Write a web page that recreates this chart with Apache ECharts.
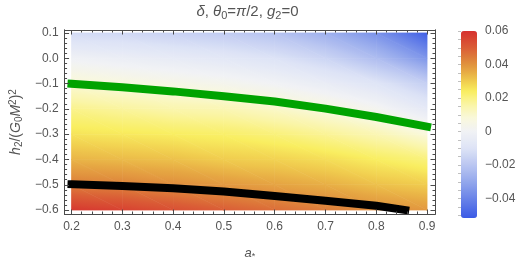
<!DOCTYPE html>
<html><head><meta charset="utf-8">
<script src="https://cdn.jsdelivr.net/npm/echarts@6/dist/echarts.min.js"></script>
<style>html,body{margin:0;padding:0;background:#fff}#c{width:529px;height:266px}</style>
</head><body><div id="c"></div><script>
// ---- data ----
const aStar = [0.2, 0.3, 0.4, 0.5, 0.6, 0.7, 0.8, 0.9];
const h2 = [0.1, 0.0, -0.1, -0.2, -0.3, -0.4, -0.5, -0.6];
// delta values down each column (h2 from 0.1 to -0.6)
const deltaA02 = [-0.013, -0.001, 0.009, 0.019, 0.026, 0.034, 0.044, 0.058];
const deltaA03 = [-0.014, -0.003, 0.007, 0.017, 0.025, 0.033, 0.043, 0.056];
const deltaA04 = [-0.016, -0.005, 0.005, 0.015, 0.024, 0.032, 0.041, 0.053];
const deltaA05 = [-0.018, -0.007, 0.003, 0.014, 0.023, 0.030, 0.039, 0.050];
const deltaA06 = [-0.021, -0.010, 0.000, 0.011, 0.021, 0.029, 0.037, 0.047];
const deltaA07 = [-0.027, -0.015, -0.004, 0.007, 0.018, 0.027, 0.035, 0.044];
const deltaA08 = [-0.036, -0.023, -0.009, 0.002, 0.014, 0.024, 0.032, 0.041];
const deltaA09 = [-0.050, -0.035, -0.017, -0.006, 0.008, 0.021, 0.030, 0.039];
const deltaCols = [deltaA02, deltaA03, deltaA04, deltaA05, deltaA06, deltaA07, deltaA08, deltaA09];

const greenA = [0.2, 0.3, 0.4, 0.5, 0.6, 0.7, 0.8, 0.9];
const greenH = [-0.101, -0.115, -0.131, -0.150, -0.171, -0.199, -0.232, -0.270];
const blackA = [0.2, 0.3, 0.4, 0.5, 0.6, 0.7, 0.8, 0.857];
const blackH = [-0.498, -0.505, -0.514, -0.527, -0.544, -0.563, -0.583, -0.600];

const xTickLabels = [0.2, 0.3, 0.4, 0.5, 0.6, 0.7, 0.8, 0.9];
const yTickLabels = [-0.6, -0.5, -0.4, -0.3, -0.2, -0.1, 0.0, 0.1];
const cbTickLabels = [-0.04, -0.02, 0, 0.02, 0.04, 0.06];

// ---- styling ----
const cbMin = -0.0516, cbMax = 0.06;
const cmapStops = [
  [-0.0516, '#3a5ae6'], [-0.040, '#6a84e8'], [-0.030, '#93a7ec'], [-0.020, '#bac6f1'],
  [-0.010, '#dde3f6'], [0.000, '#f1f2f5'], [0.008, '#f9f8dc'], [0.016, '#faf5a6'],
  [0.024, '#f9ee60'], [0.030, '#f0cc4e'], [0.036, '#e6a843'], [0.042, '#df883c'],
  [0.050, '#da5d36'], [0.060, '#d6302e']
];
const FONT = '"Liberation Sans", Arial, "DejaVu Sans", sans-serif';
const frameColor = '#4a4a4a';
const labelColor = '#555555';
const xMin = 0.1864, xMax = 0.9156, yMin = -0.6155, yMax = 0.1116;

function hexToRgb(h) { return [parseInt(h.substr(1,2),16), parseInt(h.substr(3,2),16), parseInt(h.substr(5,2),16)]; }
const stopRgb = cmapStops.map(s => [s[0], hexToRgb(s[1])]);
function cmap(v) {
  v = Math.max(cbMin, Math.min(cbMax, v));
  let i = 0;
  while (i < stopRgb.length - 2 && v > stopRgb[i + 1][0]) i++;
  const v0 = stopRgb[i][0], v1 = stopRgb[i + 1][0];
  const f = Math.max(0, Math.min(1, (v - v0) / (v1 - v0)));
  const a = stopRgb[i][1], b = stopRgb[i + 1][1];
  return 'rgb(' + [0,1,2].map(k => Math.round(a[k] + (b[k] - a[k]) * f)).join(',') + ')';
}
const barColors = [];
for (let k = 0; k <= 80; k++) barColors.push(cmap(cbMin + (cbMax - cbMin) * k / 80));

function tri(P, V) {
  const e1x = P[1][0]-P[0][0], e1y = P[1][1]-P[0][1];
  const e2x = P[2][0]-P[0][0], e2y = P[2][1]-P[0][1];
  const d1 = V[1]-V[0], d2 = V[2]-V[0];
  const det = e1x*e2y - e1y*e2x;
  const ax = (d1*e2y - d2*e1y) / det;
  const ay = (e1x*d2 - e2x*d1) / det;
  let imin = 0, imax = 0;
  for (let k = 1; k < 3; k++) { if (V[k] < V[imin]) imin = k; if (V[k] > V[imax]) imax = k; }
  const vmin = V[imin], vmax = V[imax];
  const g2 = ax*ax + ay*ay;
  let fill;
  if (g2 < 1e-14 || vmax - vmin < 1e-9) {
    fill = cmap((vmin + vmax) / 2);
  } else {
    const s = (vmax - vmin) / g2;
    const stops = [];
    const n = 10;
    for (let k = 0; k <= n; k++) stops.push({ offset: k / n, color: cmap(vmin + (vmax - vmin) * k / n) });
    fill = { type: 'linear', x: P[imin][0], y: P[imin][1], x2: P[imin][0] + ax*s, y2: P[imin][1] + ay*s, colorStops: stops, global: true };
  }
  return { type: 'polygon', shape: { points: P }, style: { fill: fill, stroke: fill, lineWidth: 0.7 }, silent: true };
}

const cells = [];
for (let i = 0; i < aStar.length - 1; i++)
  for (let j = 0; j < h2.length - 1; j++)
    cells.push([aStar[i], h2[j], i, j]);

const xMinor = [], yMinor = [], cbMinor = [];
for (let k = 10; k <= 45; k++) xMinor.push(k / 50);
for (let k = -30; k <= 5; k++) yMinor.push(k / 50);
for (let k = -10; k <= 12; k++) cbMinor.push(k / 200);

const fmt1 = v => (Math.abs(v) < 1e-9 ? '0.0' : v.toFixed(1)).replace('-', '\u2212');
const fmt2 = v => (Math.abs(v) < 1e-9 ? '0' : v.toFixed(2)).replace('-', '\u2212');

function richSet(size) {
  return {
    i: { fontStyle: 'italic', fontSize: size, color: labelColor, fontFamily: FONT },
    n: { fontSize: size, color: labelColor, fontFamily: FONT },
    sub: { fontSize: Math.round(size * 0.7), color: labelColor, fontFamily: FONT, padding: [Math.round(size * 0.45), 0, 0, 0] },
    sup: { fontSize: Math.round(size * 0.7), color: labelColor, fontFamily: FONT, padding: [0, 0, Math.round(size * 0.45), 0] }
  };
}

function frameAxis(isX, position, ticks, len, labels, extra) {
  return Object.assign({
    type: 'value', gridIndex: 0, position: position,
    min: isX ? xMin : yMin, max: isX ? xMax : yMax,
    axisLine: { show: true, onZero: false, lineStyle: { color: frameColor, width: 1 } },
    splitLine: { show: false },
    axisTick: { show: true, inside: true, length: len, customValues: ticks, lineStyle: { color: frameColor, width: 1 } },
    axisLabel: labels ? { show: true, customValues: labels, formatter: fmt1, color: labelColor, fontSize: 12, fontFamily: FONT, margin: isX ? 7 : 6 } : { show: false },
    z: 5
  }, extra || {});
}

const chart = echarts.init(document.getElementById('c'), null, { renderer: 'canvas' });
chart.setOption({
  animation: false,
  backgroundColor: '#ffffff',
  title: {
    text: '{i|δ}{n|, }{i|θ}{sub|0}{n|=}{i|π}{n|/2, }{i|g}{sub|2}{n|=0}',
    left: 247.5, top: 3, textAlign: 'center', padding: 0,
    textStyle: { fontSize: 15, fontWeight: 'normal', color: labelColor, fontFamily: FONT, rich: richSet(15) }
  },
  grid: [
    { left: 60, top: 30, width: 375, height: 187 },
    { left: 461, top: 31, width: 16, height: 187 }
  ],
  xAxis: [
    frameAxis(true, 'bottom', xTickLabels, 4.5, xTickLabels, {
      name: '{i|a}{sub|*}', nameLocation: 'middle', nameGap: 32,
      nameTextStyle: { color: labelColor, fontSize: 13, fontFamily: FONT, rich: richSet(13) }
    }),
    frameAxis(true, 'bottom', xMinor, 2.5, null),
    frameAxis(true, 'top', xTickLabels, 4.5, null),
    frameAxis(true, 'top', xMinor, 2.5, null),
    { type: 'value', gridIndex: 1, show: false, min: 0, max: 1 }
  ],
  yAxis: [
    frameAxis(false, 'left', yTickLabels, 4.5, yTickLabels, {
      name: '{i|h}{sub|2}{n|/(}{i|G}{sub|0}{i|M}{sup|2}{n|)}{sup|2}', nameLocation: 'middle', nameGap: 36,
      nameTextStyle: { color: labelColor, fontSize: 14, fontFamily: FONT, rich: richSet(14) }
    }),
    frameAxis(false, 'left', yMinor, 2.5, null),
    frameAxis(false, 'right', yTickLabels, 4.5, null),
    frameAxis(false, 'right', yMinor, 2.5, null),
    {
      type: 'value', gridIndex: 1, position: 'right', min: cbMin, max: cbMax, z: 10,
      axisLine: { show: false }, splitLine: { show: false },
      axisTick: { show: true, inside: true, length: 3, customValues: cbMinor, lineStyle: { color: 'rgba(150,150,150,0.6)', width: 1 } },
      axisLabel: { show: true, customValues: cbTickLabels, formatter: fmt2, color: labelColor, fontSize: 12, fontFamily: FONT, margin: 8 }
    }
  ],
  visualMap: {
    type: 'continuous', min: cbMin, max: cbMax, calculable: false,
    left: 461, top: 31, itemWidth: 16, itemHeight: 187, padding: 0,
    seriesIndex: 0, dimension: 2, text: null, showLabel: false,
    inRange: { color: barColors }
  },
  series: [
    {
      type: 'custom', xAxisIndex: 0, yAxisIndex: 0, silent: true, z: 1,
      encode: { x: 0, y: 1 },
      data: cells,
      renderItem: function (params, api) {
        const i = api.value(2), j = api.value(3);
        const c00 = api.coord([aStar[i], h2[j]]);
        const c10 = api.coord([aStar[i + 1], h2[j]]);
        const c01 = api.coord([aStar[i], h2[j + 1]]);
        const c11 = api.coord([aStar[i + 1], h2[j + 1]]);
        const v00 = deltaCols[i][j], v10 = deltaCols[i + 1][j], v01 = deltaCols[i][j + 1], v11 = deltaCols[i + 1][j + 1];
        return { type: 'group', children: [
          tri([c00, c10, c11], [v00, v10, v11]),
          tri([c00, c11, c01], [v00, v11, v01])
        ] };
      }
    },
    {
      type: 'line', xAxisIndex: 0, yAxisIndex: 0, z: 3, showSymbol: false, silent: true,
      data: greenA.map((a, k) => [a, greenH[k]]),
      lineStyle: { color: '#00a300', width: 8, cap: 'square' }
    },
    {
      type: 'line', xAxisIndex: 0, yAxisIndex: 0, z: 3, showSymbol: false, silent: true,
      data: blackA.map((a, k) => [a, blackH[k]]),
      lineStyle: { color: '#000000', width: 8, cap: 'square' }
    }
  ]
});
</script></body></html>
